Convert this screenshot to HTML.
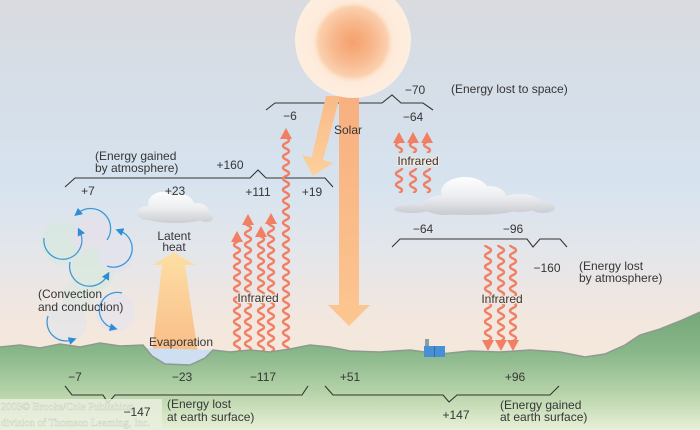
<!DOCTYPE html>
<html>
<head>
<meta charset="utf-8">
<style>
html,body{margin:0;padding:0;width:700px;height:430px;overflow:hidden;background:#e0e3e6}
svg{display:block}
text{font-family:"Liberation Sans",Arial,sans-serif;font-size:12px;fill:#363636}
.wm{font-family:"Liberation Serif",serif;font-size:10.5px;fill:#fafbf4;stroke:#cdd5c2;stroke-width:.5}
.halo{paint-order:stroke;stroke:#f3e7de;stroke-width:2.5px;stroke-linejoin:round}
.br{fill:none;stroke:#333;stroke-width:1.1}
.ir{fill:#f07f64}
.arc{fill:none;stroke:#3c9ad8;stroke-width:1.3}
</style>
</head>
<body>
<svg width="700" height="430" viewBox="0 0 700 430">
<defs>
  <linearGradient id="sky" x1="0" y1="0" x2="0" y2="430" gradientUnits="userSpaceOnUse">
    <stop offset="0" stop-color="#d9dbdf"/>
    <stop offset="0.22" stop-color="#d6dee8"/>
    <stop offset="0.42" stop-color="#d6e3ef"/>
    <stop offset="0.6" stop-color="#e5e6ea"/>
    <stop offset="0.76" stop-color="#f4e7dd"/>
    <stop offset="1" stop-color="#f6e6da"/>
  </linearGradient>
  <linearGradient id="grd" x1="0" y1="310" x2="0" y2="430" gradientUnits="userSpaceOnUse">
    <stop offset="0" stop-color="#74a677"/>
    <stop offset="0.35" stop-color="#88b78a"/>
    <stop offset="0.7" stop-color="#b8d4aa"/>
    <stop offset="1" stop-color="#e8f0d7"/>
  </linearGradient>
  <radialGradient id="sun" cx="353" cy="42" r="58" gradientUnits="userSpaceOnUse">
    <stop offset="0" stop-color="#f5a06c"/>
    <stop offset="0.35" stop-color="#f8b88d"/>
    <stop offset="0.6" stop-color="#fbd0ae"/>
    <stop offset="0.65" stop-color="#fde2cb"/>
    <stop offset="0.7" stop-color="#feeada"/>
    <stop offset="1" stop-color="#fdeee0"/>
  </radialGradient>
  <linearGradient id="beam" x1="0" y1="98" x2="0" y2="326" gradientUnits="userSpaceOnUse">
    <stop offset="0" stop-color="#f8b080"/>
    <stop offset="1" stop-color="#fcc690"/>
  </linearGradient>
  <linearGradient id="beam2" x1="0" y1="98" x2="0" y2="176" gradientUnits="userSpaceOnUse">
    <stop offset="0" stop-color="#f9bb88"/>
    <stop offset="1" stop-color="#fdd09c"/>
  </linearGradient>
  <linearGradient id="lat" x1="0" y1="252" x2="0" y2="352" gradientUnits="userSpaceOnUse">
    <stop offset="0" stop-color="#fddfa4"/>
    <stop offset="1" stop-color="#f9bd89"/>
  </linearGradient>
  <linearGradient id="cl1" x1="0" y1="190" x2="0" y2="224" gradientUnits="userSpaceOnUse">
    <stop offset="0" stop-color="#ffffff"/>
    <stop offset="0.5" stop-color="#eeeff1"/>
    <stop offset="1" stop-color="#c9cbd0"/>
  </linearGradient>
  <linearGradient id="cl2" x1="0" y1="176" x2="0" y2="216" gradientUnits="userSpaceOnUse">
    <stop offset="0" stop-color="#ffffff"/>
    <stop offset="0.5" stop-color="#eceef1"/>
    <stop offset="1" stop-color="#c6c8ce"/>
  </linearGradient>
  <marker id="ah" viewBox="0 0 10 10" refX="4" refY="5" markerWidth="8" markerHeight="8" markerUnits="userSpaceOnUse" orient="auto">
    <path d="M0,0 L10,5 L0,10 Z" fill="#2e8dd6"/>
  </marker>
  <path id="wv" fill="none" stroke="#f07f64" stroke-width="2.4" d="M0,0 q6,-2.75 0,-5.5 t0,-5.5 t0,-5.5 t0,-5.5 t0,-5.5 t0,-5.5 t0,-5.5 t0,-5.5 t0,-5.5 t0,-5.5 t0,-5.5 t0,-5.5 t0,-5.5 t0,-5.5 t0,-5.5 t0,-5.5 t0,-5.5 t0,-5.5 t0,-5.5 t0,-5.5 t0,-5.5 t0,-5.5 t0,-5.5 t0,-5.5 t0,-5.5 t0,-5.5 t0,-5.5 t0,-5.5 t0,-5.5 t0,-5.5 t0,-5.5 t0,-5.5 t0,-5.5 t0,-5.5 t0,-5.5 t0,-5.5 t0,-5.5 t0,-5.5 t0,-5.5"/>
</defs>

<!-- sky -->
<rect x="0" y="0" width="700" height="430" fill="url(#sky)"/>

<!-- clouds -->
<g fill="url(#cl1)">
  <ellipse cx="162" cy="204" rx="14" ry="12"/>
  <ellipse cx="180" cy="205" rx="14" ry="11"/>
  <ellipse cx="197" cy="211" rx="12" ry="8"/>
  <ellipse cx="148" cy="213" rx="11" ry="7"/>
  <ellipse cx="175" cy="216" rx="32" ry="7"/>
  <ellipse cx="206" cy="218" rx="7" ry="4"/>
</g>
<g fill="url(#cl2)">
  <ellipse cx="520" cy="203" rx="22" ry="9"/>
  <ellipse cx="543" cy="208" rx="12" ry="5"/>
  <ellipse cx="412" cy="209" rx="18" ry="4"/>
  <ellipse cx="465" cy="192" rx="24" ry="15"/>
  <ellipse cx="490" cy="197" rx="16" ry="11"/>
  <ellipse cx="445" cy="205" rx="22" ry="10"/>
  <ellipse cx="470" cy="210" rx="45" ry="5"/>
</g>

<!-- convection circles -->
<g opacity="0.55">
  <circle cx="63" cy="243" r="22" fill="#d5eadc"/>
  <circle cx="93" cy="237" r="20" fill="#e9dfea"/>
  <circle cx="93" cy="270" r="22" fill="#d3eadb"/>
  <circle cx="116" cy="255" r="18" fill="#e2e2f0"/>
  <circle cx="78" cy="297" r="16" fill="#d8eadf"/>
  <circle cx="67" cy="322" r="20" fill="#dfe6ee"/>
  <circle cx="115" cy="312" r="20" fill="#e4e4f2"/>
</g>
<g class="arc" marker-end="url(#ah)">
  <path d="M107,240 A20,20 0 0 0 78,213"/>
  <path d="M44,238 A19,19 0 1 0 80,232"/>
  <path d="M107,266 A18.5,18.5 0 1 0 120,231"/>
  <path d="M70,262 A20,20 0 0 0 107,276"/>
  <path d="M48,316 A19,19 0 0 0 72,340"/>
  <path d="M122,293 A18,18 0 1 0 113,328"/>
</g>

<!-- brackets (atmosphere) -->
<path class="br" d="M266,110 L275,103 L382,103 L392,95 L401,103 L423,103 L433,110"/>
<path class="br" d="M65,187 L75,178 L250,178 L258,170 L266,178 L325,178 L333,187"/>
<path class="br" d="M392,247 L400,239 L527,239 L533,247 L540,239 L560,239 L567,247"/>

<!-- solar beams -->
<path d="M339,96 L359,96 L359,305 L370,305 L349,326 L328,305 L339,305 Z" fill="url(#beam)"/>
<path d="M326,96 L340,96 L323,160 L333,163 L313,176 L302,155 L311.5,157.5 Z" fill="url(#beam2)"/>

<!-- sun -->
<circle cx="353" cy="40" r="58" fill="url(#sun)"/>

<!-- latent heat arrow -->
<path d="M152,353 L198,353 L185,265 L195,265 L174,252 L153,265 L162,265 Z" fill="url(#lat)"/>

<!-- infrared left group (up) -->
<svg x="229" y="241" width="16" height="111"><use href="#wv" x="8" y="111"/></svg>
<svg x="240" y="224" width="16" height="128"><use href="#wv" x="8" y="128"/></svg>
<svg x="253" y="236" width="16" height="116"><use href="#wv" x="8" y="116"/></svg>
<svg x="263" y="223" width="16" height="129"><use href="#wv" x="8" y="129"/></svg>
<svg x="278" y="138" width="16" height="214"><use href="#wv" x="8" y="214"/></svg>
<g class="ir">
  <path d="M231,242 L243,242 L237,231 Z"/>
  <path d="M242,225 L254,225 L248,214 Z"/>
  <path d="M255,237 L267,237 L261,226 Z"/>
  <path d="M265,224 L277,224 L271,213 Z"/>
  <path d="M280,139 L292,139 L286,128 Z"/>
</g>

<!-- infrared top right (to space) -->
<svg x="391" y="142" width="16" height="11"><use href="#wv" x="8" y="11"/></svg>
<svg x="405" y="142" width="16" height="11"><use href="#wv" x="8" y="11"/></svg>
<svg x="419" y="142" width="16" height="11"><use href="#wv" x="8" y="11"/></svg>
<svg x="391" y="168" width="16" height="25"><use href="#wv" x="8" y="25"/></svg>
<svg x="405" y="168" width="16" height="25"><use href="#wv" x="8" y="25"/></svg>
<svg x="419" y="168" width="16" height="25"><use href="#wv" x="8" y="25"/></svg>
<g class="ir">
  <path d="M393,143 L405,143 L399,132 Z"/>
  <path d="M407,143 L419,143 L413,132 Z"/>
  <path d="M421,143 L433,143 L427,132 Z"/>
</g>

<!-- infrared down right -->
<svg x="480" y="245" width="16" height="96"><use href="#wv" x="8" y="96"/></svg>
<svg x="493" y="245" width="16" height="96"><use href="#wv" x="8" y="96"/></svg>
<svg x="505" y="245" width="16" height="96"><use href="#wv" x="8" y="96"/></svg>
<g class="ir">
  <path d="M482,340 L494,340 L488,351 Z"/>
  <path d="M495,340 L507,340 L501,351 Z"/>
  <path d="M507,340 L519,340 L513,351 Z"/>
</g>

<!-- ground -->
<path d="M0,347 L20,345 L40,348 L60,344 L80,347 L100,343 L120,346 L143,345 L152,356 L165,364 L190,365 L205,358 L213,350 L230,352 L250,350 L270,352 L290,349 L310,345 L330,347 L350,351 L380,352 L410,350 L440,354 L470,351 L500,352 L530,350 L560,352 L585,357 L605,354 L625,345 L640,335 L660,329 L680,321 L700,312 L700,430 L0,430 Z" fill="url(#grd)"/>
<path d="M145,348 L212,350 L205,358 L190,365 L165,364 L152,356 Z" fill="#cddff0"/>
<path d="M0,347 L20,345 L40,348 L60,344 L80,347 L100,343 L120,346 L143,345 L152,356 L165,364 L190,365 L205,358 L213,350 L230,352 L250,350 L270,352 L290,349 L310,345 L330,347 L350,351 L380,352 L410,350 L440,354 L470,351 L500,352 L530,350 L560,352 L585,357 L605,354 L625,345 L640,335 L660,329 L680,321 L700,312" fill="none" stroke="#8e9a90" stroke-width="1.5"/>

<!-- factory -->
<rect x="425" y="339" width="4" height="8" fill="#8b9ba8"/>
<rect x="424" y="346" width="21" height="11" fill="#4790d4"/>
<line x1="434.5" y1="346" x2="434.5" y2="357" stroke="#2f6fae" stroke-width="1"/>

<!-- surface brackets -->
<path class="br" d="M65,386 L72,395 L103,395 L108,403 L115,395 L302,395 L308,386"/>
<path class="br" d="M325,386 L333,395 L443,395 L449,402 L457,395 L550,395 L559,386"/>

<!-- watermark -->
<rect x="0" y="399" width="162" height="31" fill="#e9efde" opacity="0.85"/>
<text class="wm" x="1" y="410">2003© Brooks/Cole Publishing</text>
<text class="wm" x="1" y="426">division of Thomson Learning, Inc.</text>

<!-- labels -->
<text x="290" y="120" text-anchor="middle">−6</text>
<text x="348" y="134" text-anchor="middle">Solar</text>
<text x="415" y="94" text-anchor="middle">−70</text>
<text x="413" y="121" text-anchor="middle">−64</text>
<text x="451" y="93">(Energy lost to space)</text>

<text x="95" y="160">(Energy gained</text>
<text x="95" y="172">by atmosphere)</text>
<text x="230" y="169" text-anchor="middle">+160</text>
<text x="88" y="195" text-anchor="middle">+7</text>
<text x="175" y="195" text-anchor="middle">+23</text>
<text x="258" y="196" text-anchor="middle">+111</text>
<text x="312" y="196" text-anchor="middle">+19</text>

<text class="halo" x="418" y="165" text-anchor="middle">Infrared</text>

<text x="174" y="240" text-anchor="middle">Latent</text>
<text x="174" y="251" text-anchor="middle">heat</text>

<text class="halo" x="258" y="302" text-anchor="middle">Infrared</text>

<text x="423" y="233" text-anchor="middle">−64</text>
<text x="513" y="233" text-anchor="middle">−96</text>
<text x="547" y="272" text-anchor="middle">−160</text>
<text x="579" y="270">(Energy lost</text>
<text x="579" y="282">by atmosphere)</text>
<text class="halo" x="502" y="303" text-anchor="middle">Infrared</text>

<text x="38" y="298">(Convection</text>
<text x="38" y="311">and conduction)</text>
<text x="181" y="346" text-anchor="middle">Evaporation</text>

<text x="75" y="381" text-anchor="middle">−7</text>
<text x="182" y="381" text-anchor="middle">−23</text>
<text x="263" y="381" text-anchor="middle">−117</text>
<text x="350" y="381" text-anchor="middle">+51</text>
<text x="515" y="381" text-anchor="middle">+96</text>

<text x="137" y="416" text-anchor="middle">−147</text>
<text x="167" y="408">(Energy lost</text>
<text x="167" y="421">at earth surface)</text>
<text x="456" y="419" text-anchor="middle">+147</text>
<text x="500" y="409">(Energy gained</text>
<text x="500" y="421">at earth surface)</text>
</svg>
</body>
</html>
